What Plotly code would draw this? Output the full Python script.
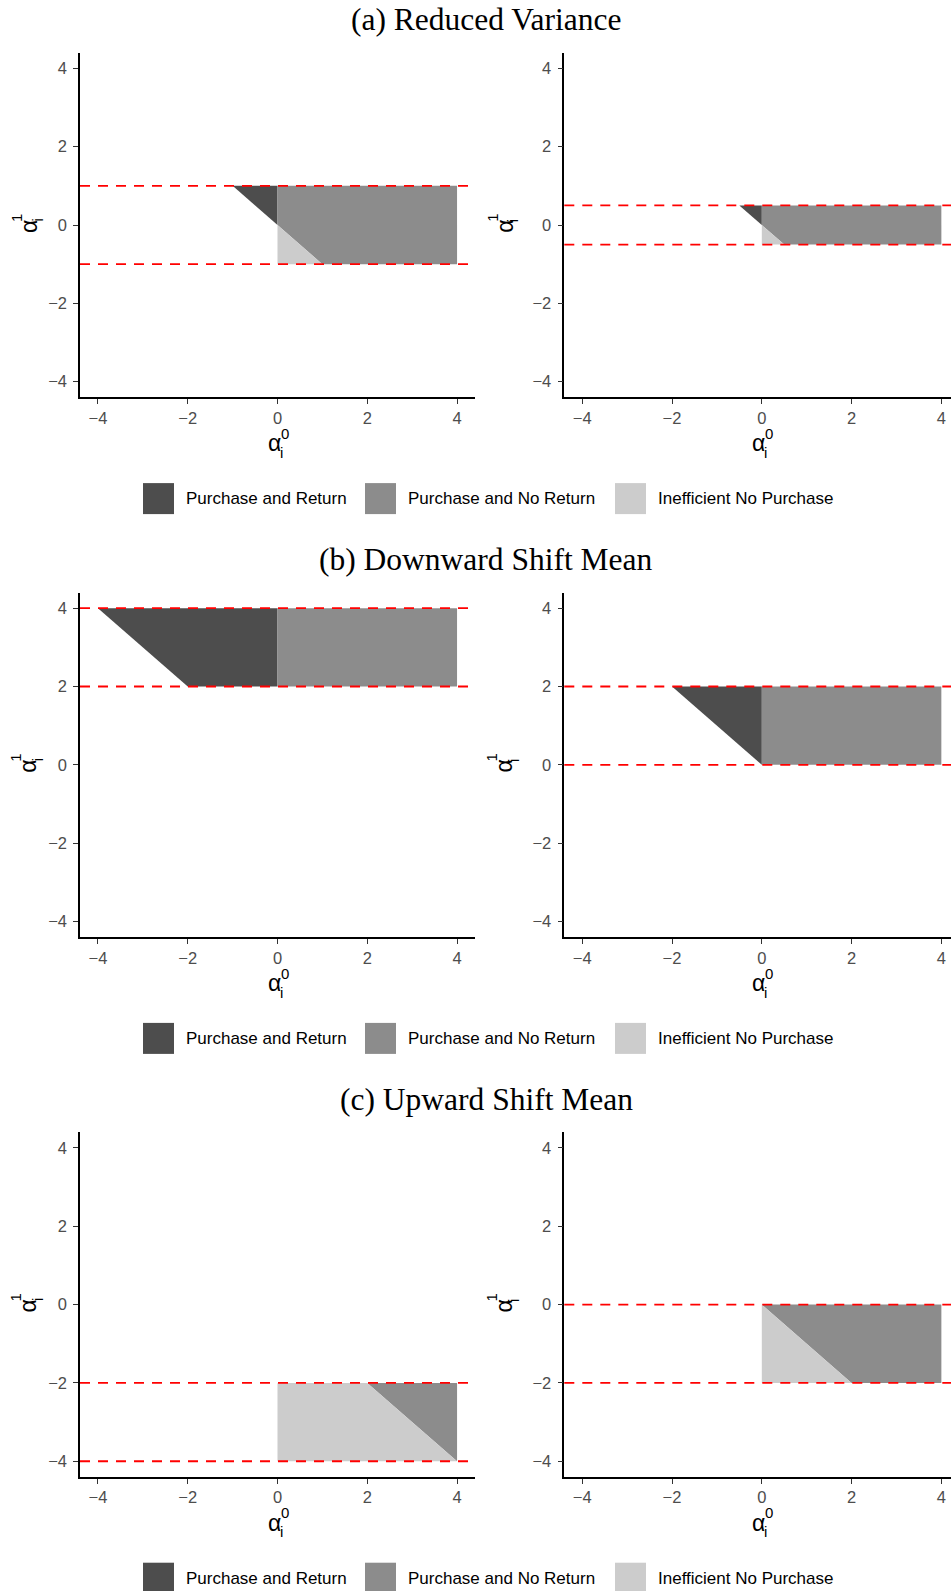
import plotly.graph_objects as go

FIG_W, FIG_H = 951, 1591

# ---------------------------------------------------------------- data
section_titles = ["(a) Reduced Variance", "(b) Downward Shift Mean", "(c) Upward Shift Mean"]

# support of alpha^1 (lower / upper bound) in the left and right panel of each section
left_band_low = [-1.0, 2.0, -4.0]
left_band_high = [1.0, 4.0, -2.0]
right_band_low = [-0.5, 0.0, -2.0]
right_band_high = [0.5, 2.0, 0.0]

# support of alpha^0
alpha0_min, alpha0_max = -4.0, 4.0

region_names = ["Purchase and Return", "Purchase and No Return", "Inefficient No Purchase"]
region_colors = ["#4d4d4d", "#8c8c8c", "#cccccc"]
tick_values = [-4, -2, 0, 2, 4]

# ---------------------------------------------------------------- layout geometry (pixels)
PANEL_TOP0 = 52.7
SECTION_STEP = 539.8
PANEL_H = 344.6
LEFT_X = (80.0, 475.0)
RIGHT_X = (564.3, 951.0)
X_RANGE_LEFT = [-4.4, 4.4]
UNIT_PX = (LEFT_X[1] - LEFT_X[0]) / (X_RANGE_LEFT[1] - X_RANGE_LEFT[0])
X_RANGE_RIGHT = [-4.4, -4.4 + (RIGHT_X[1] - RIGHT_X[0]) / UNIT_PX]
Y_RANGE = [-4.4, 4.4]

SANS = "Liberation Sans, Arial, Helvetica, sans-serif"
SERIF = "Liberation Serif, Times New Roman, serif"


def px(x):
    return x / FIG_W


def py(y):
    return 1 - y / FIG_H


def region_interval(region, a1):
    """alpha^0 interval of a region for a given alpha^1."""
    if region == 0:      # purchase and return: alpha0 < 0 < alpha0 + alpha1
        return max(alpha0_min, -a1), 0.0
    if region == 1:      # purchase and no return: alpha0 > 0, alpha0 + alpha1 > 0
        return max(0.0, -a1), alpha0_max
    return 0.0, min(alpha0_max, -a1)   # inefficient no purchase


def region_polygon(region, lo, hi):
    cuts = {lo, hi}
    for c in (0.0, -alpha0_min, -alpha0_max):
        if lo < c < hi:
            cuts.add(c)
    rows = []
    for a1 in sorted(cuts):
        a, b = region_interval(region, a1)
        if b - a >= -1e-12:
            rows.append((a1, a, b))
    if len(rows) < 2:
        return None
    xs = [r[1] for r in rows] + [r[2] for r in reversed(rows)]
    ys = [r[0] for r in rows] + [r[0] for r in reversed(rows)]
    area = 0.5 * abs(sum(xs[i] * ys[i - 1] - xs[i - 1] * ys[i] for i in range(len(xs))))
    if area < 1e-9:
        return None
    return xs + [xs[0]], ys + [ys[0]]


fig = go.Figure()
layout = {}
annotations = []
shapes = []

for s in range(3):
    top = PANEL_TOP0 + s * SECTION_STEP
    bottom = top + PANEL_H
    panels = [
        (2 * s + 1, LEFT_X, X_RANGE_LEFT, left_band_low[s], left_band_high[s], -52.5),
        (2 * s + 2, RIGHT_X, X_RANGE_RIGHT, right_band_low[s], right_band_high[s], -61.0),
    ]
    for idx, (x0p, x1p), xr, b_lo, b_hi, ytitle_off in panels:
        xa = "x" if idx == 1 else f"x{idx}"
        ya = "y" if idx == 1 else f"y{idx}"
        axis_common = dict(
            tickvals=tick_values, ticks="outside", ticklen=5, tickwidth=1.1,
            tickcolor="#333333", showline=True, linecolor="black", linewidth=1.5,
            showgrid=False, zeroline=False, fixedrange=True,
            tickfont=dict(family=SANS, size=16.5, color="#4d4d4d"),
        )
        layout["xaxis" if idx == 1 else f"xaxis{idx}"] = dict(
            axis_common, domain=[px(x0p), px(x1p)], range=xr, anchor=ya,
            ticklabelstandoff=0,
        )
        layout["yaxis" if idx == 1 else f"yaxis{idx}"] = dict(
            axis_common, domain=[py(bottom), py(top)], range=Y_RANGE, anchor=xa,
            ticklabelstandoff=3,
        )

        # decision regions
        for r in range(3):
            poly = region_polygon(r, b_lo, b_hi)
            if poly is None:
                continue
            fig.add_trace(go.Scatter(
                x=poly[0], y=poly[1], mode="lines", fill="toself",
                fillcolor=region_colors[r], line=dict(width=0, color=region_colors[r]),
                xaxis=xa, yaxis=ya, showlegend=False, hoverinfo="skip",
            ))

        # support bounds of alpha^1
        for yv in (b_lo, b_hi):
            shapes.append(dict(
                type="line", xref=f"{xa} domain", yref=ya, x0=0, x1=1, y0=yv, y1=yv,
                line=dict(color="red", width=1.8, dash="10px,8px"), layer="above",
            ))

        # x-axis title: alpha_i^0
        ybase = bottom
        annotations += [
            dict(text="α", xref=xa, x=0, xshift=-3.2, yref="paper", y=py(ybase + 46.0),
                 font=dict(family=SANS, size=23, color="black")),
            dict(text="0", xref=xa, x=0, xshift=7.5, yref="paper", y=py(ybase + 36.0),
                 font=dict(family=SANS, size=15, color="black")),
            dict(text="i", xref=xa, x=0, xshift=3.8, yref="paper", y=py(ybase + 55.0),
                 font=dict(family=SANS, size=15, color="black")),
        ]
        # y-axis title: alpha_i^1 (rotated)
        xc = x0p + ytitle_off
        annotations += [
            dict(text="α", xref="paper", x=px(xc + 1), yref=ya, y=0, yshift=-1.5,
                 textangle=-90, font=dict(family=SANS, size=23, color="black")),
            dict(text="1", xref="paper", x=px(xc - 11.5), yref=ya, y=0, yshift=7.0,
                 textangle=-90, font=dict(family=SANS, size=15, color="black")),
            dict(text="i", xref="paper", x=px(xc + 9.5), yref=ya, y=0, yshift=4.5,
                 textangle=-90, font=dict(family=SANS, size=15, color="black")),
        ]

    # section title
    annotations.append(dict(
        text=section_titles[s], xref="paper", yref="paper", x=px(486), y=py(top - 33),
        font=dict(family=SERIF, size=31.5, color="black"),
    ))

    # legend row
    leg_y = bottom + 101.3
    for r, sx in enumerate([143.0, 365.0, 615.0]):
        shapes.append(dict(
            type="rect", xref="paper", yref="paper", x0=px(sx), x1=px(sx + 31),
            y0=py(leg_y + 15.5), y1=py(leg_y - 15.5),
            fillcolor=region_colors[r], line=dict(width=0), layer="above",
        ))
        annotations.append(dict(
            text=region_names[r], xref="paper", yref="paper", x=px(sx + 41), y=py(leg_y),
            xanchor="left", font=dict(family=SANS, size=17, color="black"),
        ))

for a in annotations:
    a.setdefault("showarrow", False)
    a.setdefault("xanchor", "center")
    a.setdefault("yanchor", "middle")

fig.update_layout(
    width=FIG_W, height=FIG_H, autosize=False,
    margin=dict(l=0, r=0, t=0, b=0),
    paper_bgcolor="white", plot_bgcolor="white",
    showlegend=False, annotations=annotations, shapes=shapes,
    **layout,
)

fig.write_html("out.html")
